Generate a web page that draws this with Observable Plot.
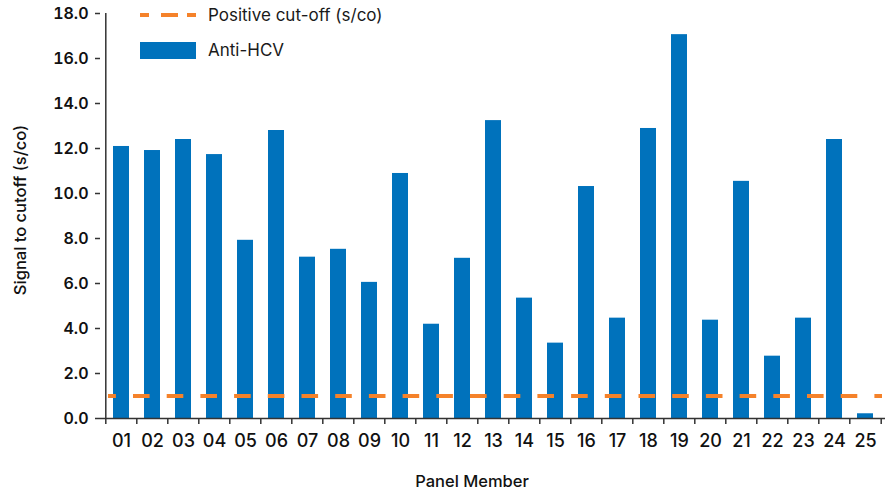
<!DOCTYPE html>
<html>
<head>
<meta charset="utf-8">
<script src="https://cdn.jsdelivr.net/npm/d3@7"></script>
<script src="https://cdn.jsdelivr.net/npm/@observablehq/plot@0.6"></script>
<style>
  html, body { margin: 0; padding: 0; background: #fff; }
  #wrap { position: relative; width: 894px; height: 493px; font-family: Inter, Lato, sans-serif; color: #1a1a1a; }
  .leg { position: absolute; left: 140px; display: flex; align-items: center; font-size: 17px; }
  .leg span { margin-left: 12px; white-space: nowrap; }
</style>
</head>
<body>
<div id="wrap"></div>
<script>
const members = ["01","02","03","04","05","06","07","08","09","10","11","12","13","14","15","16","17","18","19","20","21","22","23","24","25"];
const antiHCV = [12.09, 11.91, 12.40, 11.73, 7.92, 12.80, 7.17, 7.52, 6.05, 10.89, 4.19, 7.12, 13.24, 5.35, 3.35, 10.31, 4.46, 12.89, 17.06, 4.37, 10.54, 2.77, 4.46, 12.40, 0.21];
const cutoff = [1.0];
const yTicks = [0, 2, 4, 6, 8, 10, 12, 14, 16, 18];
const legendLabels = ["Positive cut-off (s/co)", "Anti-HCV"];
const xTitle = "Panel Member";
const yTitle = "Signal to cutoff (s/co)";

const barColor = "#0072BC";
const cutColor = "#F5822A";
const axisColor = "#333333";
const textColor = "#111111";

const data = members.map((m, i) => ({member: m, value: antiHCV[i]}));

const W = 894, H = 493, mL = 100, mR = 9, mT = 13, mB = 75;
const step = (W - mL - mR) / members.length;

const chart = Plot.plot({
  width: W, height: H,
  marginLeft: mL, marginRight: mR, marginTop: mT, marginBottom: mB,
  style: {fontFamily: "Inter, Lato, sans-serif", color: textColor, background: "white", overflow: "visible"},
  x: {domain: members, paddingInner: 0.5, paddingOuter: 0.25, label: null},
  y: {domain: [0, 18], label: null},
  marks: [
    Plot.barY(data, {x: "member", y: "value", fill: barColor}),
    Plot.ruleY(cutoff, {stroke: cutColor, strokeWidth: 4, strokeDasharray: "16.6,17.1", strokeDashoffset: 8.7, insetLeft: 8, insetRight: 3}),
    Plot.ruleY([0], {stroke: axisColor, strokeWidth: 1.5}),
    Plot.ruleX([members[0]], {x: d => d, dx: -step / 2, insetBottom: -6, stroke: axisColor, strokeWidth: 1.5}),
    Plot.ruleX(members.slice(1), {x: d => d, dx: -step / 2, y1: 0, y2: 0, insetBottom: -6, stroke: axisColor, strokeWidth: 1.5}),
    Plot.ruleX(members.slice(-1), {x: d => d, dx: step / 2, y1: 0, y2: 0, insetBottom: -6, stroke: axisColor, strokeWidth: 1.5}),
    Plot.axisY({ticks: yTicks, tickFormat: d => d.toFixed(1), tickSize: 5, tickPadding: 7, stroke: axisColor, strokeWidth: 1.5, fontSize: 16, fontWeight: 600, fill: textColor, label: null}),
    Plot.axisX({tickSize: 0, tickPadding: 16, fontSize: 18, fontWeight: 500, fill: textColor, label: null}),
    Plot.text([yTitle], {frameAnchor: "left", textAnchor: "middle", lineAnchor: "middle", dx: -80, dy: -6, rotate: -90, fontSize: 16.5, fontWeight: 500, fill: textColor}),
    Plot.text([xTitle], {frameAnchor: "bottom", lineAnchor: "middle", dy: 63, dx: -21, fontSize: 16.5, fontWeight: 500, fill: textColor})
  ]
});

const wrap = document.getElementById("wrap");
wrap.appendChild(chart);

const leg1 = document.createElement("div");
leg1.className = "leg";
leg1.style.top = "5px";
leg1.innerHTML = `<svg width="56" height="20"><line x1="0" x2="56" y1="10" y2="10" stroke="${cutColor}" stroke-width="4" stroke-dasharray="9,12,17,9,9"/></svg><span>${legendLabels[0]}</span>`;
wrap.appendChild(leg1);
const leg2 = document.createElement("div");
leg2.className = "leg";
leg2.style.top = "40px";
leg2.innerHTML = `<svg width="56" height="18"><rect x="0" y="1" width="56" height="17" fill="${barColor}"/></svg><span>${legendLabels[1]}</span>`;
wrap.appendChild(leg2);
</script>
</body>
</html>
